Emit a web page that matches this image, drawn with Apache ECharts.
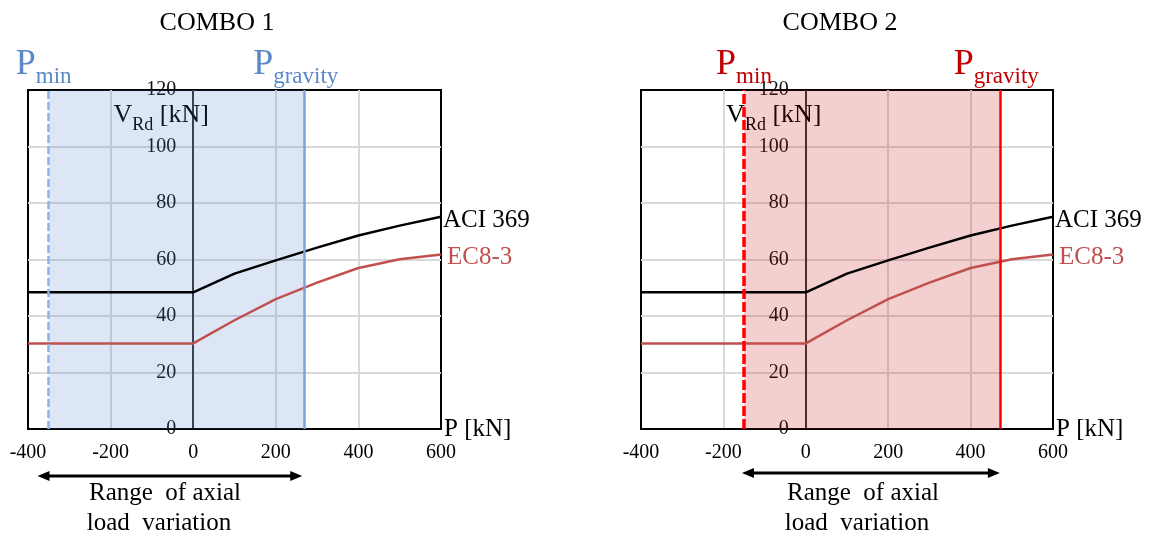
<!DOCTYPE html>
<html>
<head>
<meta charset="utf-8">
<script src="https://cdn.jsdelivr.net/npm/echarts@6/dist/echarts.min.js"></script>
<style>
  html, body { margin: 0; padding: 0; background: #fff; }
  #main { width: 1154px; height: 536px; }
</style>
</head>
<body>
<div id="main"></div>
<script>
// axial load P [kN] and shear capacity V_Rd [kN]
const P_VALUES = [-400, 0, 100, 200, 300, 400, 500, 600];
const ACI_369 = [48.4, 48.4, 55, 59.7, 64.2, 68.5, 72, 75.1];
const EC8_3 = [30.3, 30.3, 38.5, 46, 51.8, 57, 60.1, 61.8];

const COMBOS = ['COMBO 1', 'COMBO 2'];
const P_MIN = [-350, -150];
const P_GRAVITY = [270, 472];
// extent of the "range of axial load variation" arrows
const ARROW_FROM = [-377, -155];
const ARROW_TO = [264, 471];

const X_MIN = -400, X_MAX = 600;
const FONT = 'Liberation Serif';
const GRIDS = [
  { left: 28, top: 90, width: 413, height: 339 },
  { left: 641, top: 90, width: 412, height: 339 }
];
const THEME = [
  { shade: 'rgba(68,114,196,0.18)', minLine: '#8db4e2', minWidth: 2.5, minDash: [8, 3], gravLine: '#7da4d9', label: '#5b88c6', minShift: -5, gravShift: -9 },
  { shade: 'rgba(192,0,0,0.19)', minLine: '#ff0000', minWidth: 3.5, minDash: [10, 3], gravLine: '#ff0000', label: '#c00000', minShift: 0, gravShift: -4 }
];
const TITLE_X = [217, 840];
const RANGE_TEXT_X = [165, 863];

const pairs = (ys) => P_VALUES.map((p, i) => [p, ys[i]]);

const chart = echarts.init(document.getElementById('main'), null, { renderer: 'canvas' });

function makeX(i) {
  return {
    gridIndex: i,
    type: 'value',
    min: X_MIN,
    max: X_MAX,
    interval: 200,
    axisLine: { onZero: false, lineStyle: { color: '#000', width: 2 } },
    axisTick: { show: false },
    axisLabel: { color: '#000', fontFamily: FONT, fontSize: 20, margin: 14 },
    splitLine: { show: true, showMinLine: false, showMaxLine: false, lineStyle: { color: '#d9d9d9', width: 2 } },
    name: 'P [kN]',
    nameLocation: 'end',
    nameGap: 3,
    nameTextStyle: { color: '#000', fontFamily: FONT, fontSize: 25, padding: [0, 0, 12, 0] }
  };
}

function makeY(i) {
  // the vertical axis sits at P = 0
  const shift = GRIDS[i].width * (0 - X_MIN) / (X_MAX - X_MIN);
  return {
    gridIndex: i,
    type: 'value',
    position: 'left',
    offset: -shift,
    min: 0,
    max: 120,
    interval: 20,
    axisLine: { onZero: false, lineStyle: { color: '#000', width: 1.5 } },
    axisTick: { show: false },
    axisLabel: { color: '#111', fontFamily: FONT, fontSize: 20, margin: 17 },
    splitLine: { show: true, showMinLine: false, showMaxLine: false, lineStyle: { color: '#d9d9d9', width: 2 } },
    name: '{v|V}{s|Rd}{v| [kN]}',
    nameLocation: 'end',
    nameGap: -38,
    nameTextStyle: {
      padding: [0, 64, 0, 0],
      rich: {
        v: { fontFamily: FONT, fontSize: 26, lineHeight: 26, color: '#000', verticalAlign: 'top' },
        s: { fontFamily: FONT, fontSize: 18, lineHeight: 18, color: '#000', verticalAlign: 'top', padding: [14, 0, 0, 0] }
      }
    }
  };
}

function makeSeries(i) {
  const t = THEME[i];
  const rich = {
    p: { fontFamily: FONT, fontSize: 36, lineHeight: 36, color: t.label, verticalAlign: 'top' },
    s: { fontFamily: FONT, fontSize: 23, lineHeight: 23, color: t.label, verticalAlign: 'top', padding: [18, 0, 0, 0] }
  };
  return [
    {
      name: 'ACI 369',
      type: 'line',
      xAxisIndex: i,
      yAxisIndex: i,
      data: pairs(ACI_369),
      symbol: 'none',
      lineStyle: { color: '#000', width: 2.5 },
      endLabel: { show: true, formatter: '{a}', fontFamily: FONT, fontSize: 25, color: '#000', distance: 2, offset: [0, 4] },
      markArea: {
        silent: true,
        itemStyle: { color: t.shade },
        data: [[{ xAxis: P_MIN[i] }, { xAxis: P_GRAVITY[i] }]]
      },
      markLine: {
        silent: true,
        symbol: ['none', 'none'],
        label: { position: 'end', distance: 7, rich: rich },
        data: [
          {
            xAxis: P_MIN[i],
            lineStyle: { color: t.minLine, width: t.minWidth, type: t.minDash },
            label: { formatter: '{p|P}{s|min}', offset: [t.minShift, 0] }
          },
          {
            xAxis: P_GRAVITY[i],
            lineStyle: { color: t.gravLine, width: 2.5, type: 'solid' },
            label: { formatter: '{p|P}{s|gravity}', offset: [t.gravShift, 0] }
          }
        ]
      }
    },
    {
      name: 'EC8-3',
      type: 'line',
      xAxisIndex: i,
      yAxisIndex: i,
      data: pairs(EC8_3),
      symbol: 'none',
      lineStyle: { color: '#c0504d', width: 2.5 },
      endLabel: { show: true, formatter: '{a}', fontFamily: FONT, fontSize: 25, color: '#c0504d', distance: 6, offset: [0, 3] }
    }
  ];
}

chart.setOption({
  animation: false,
  backgroundColor: '#fff',
  grid: GRIDS.map((g) => Object.assign({
    show: true, borderColor: '#000', borderWidth: 2, backgroundColor: 'transparent',
    containLabel: false, outerBoundsMode: 'none'
  }, g)),
  xAxis: [makeX(0), makeX(1)],
  yAxis: [makeY(0), makeY(1)],
  series: [...makeSeries(0), ...makeSeries(1)]
});

// titles, arrows and the range captions
const graphics = [];
COMBOS.forEach((name, i) => {
  graphics.push({
    type: 'text', x: TITLE_X[i], y: 23,
    style: { text: name, font: '26px "' + FONT + '"', fill: '#000', align: 'center', verticalAlign: 'middle' }
  });
  const a = chart.convertToPixel({ gridIndex: i }, [ARROW_FROM[i], 0]);
  const b = chart.convertToPixel({ gridIndex: i }, [ARROW_TO[i], 0]);
  const y = i === 0 ? 476 : 473;
  const head = 12, half = 5;
  graphics.push({
    type: 'line', shape: { x1: a[0] + head - 1, y1: y, x2: b[0] - head + 1, y2: y },
    style: { stroke: '#000', lineWidth: 3 }
  });
  graphics.push({
    type: 'polygon', shape: { points: [[a[0], y], [a[0] + head, y - half], [a[0] + head, y + half]] },
    style: { fill: '#000' }
  });
  graphics.push({
    type: 'polygon', shape: { points: [[b[0], y], [b[0] - head, y - half], [b[0] - head, y + half]] },
    style: { fill: '#000' }
  });
  graphics.push({
    type: 'text', x: RANGE_TEXT_X[i], y: 493,
    style: { text: 'Range  of axial', font: '25px "' + FONT + '"', fill: '#000', align: 'center', verticalAlign: 'middle' }
  });
  graphics.push({
    type: 'text', x: RANGE_TEXT_X[i] - 6, y: 523,
    style: { text: 'load  variation', font: '25px "' + FONT + '"', fill: '#000', align: 'center', verticalAlign: 'middle' }
  });
});
chart.setOption({ graphic: graphics });
</script>
</body>
</html>
